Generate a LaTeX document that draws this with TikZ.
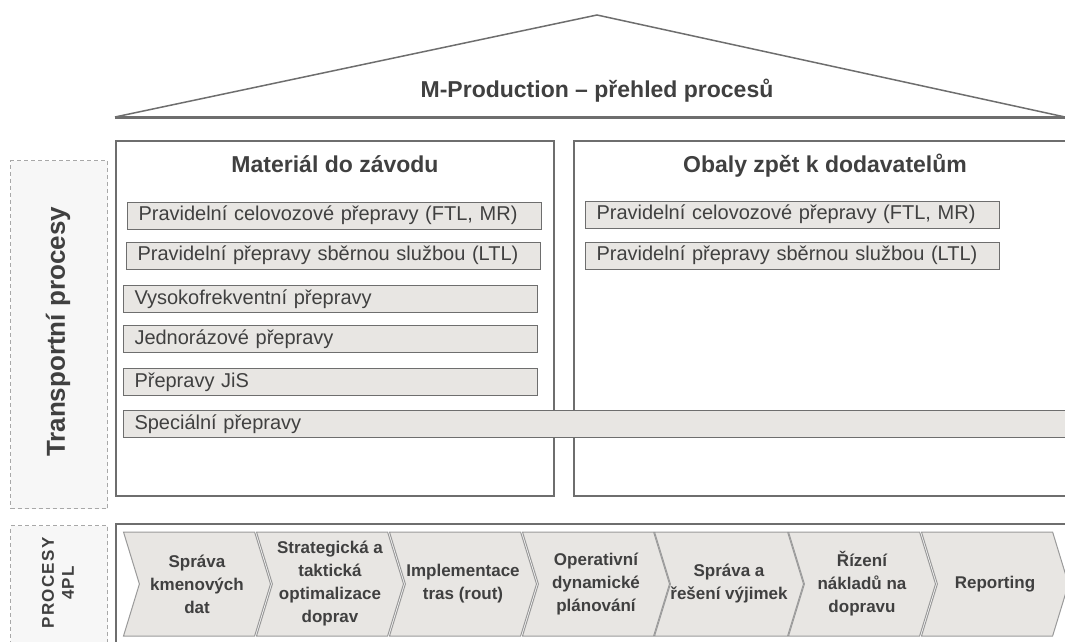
\documentclass[tikz,border=0pt]{standalone}
\usepackage{fontspec}
\setmainfont{Liberation Sans}
\usetikzlibrary{shapes.symbols}
\definecolor{txtgray}{HTML}{404040}
\definecolor{linegray}{HTML}{6E6E6E}
\definecolor{chevgray}{HTML}{9A9A9A}
\definecolor{barfill}{HTML}{E8E6E3}
\definecolor{dashgray}{HTML}{A8A8A8}
\definecolor{sidefill}{HTML}{F7F7F7}
\begin{document}
\begin{tikzpicture}[x=1pt,y=-1pt,node distance=133pt]
\tikzstyle{column} = [rectangle, draw=linegray, line width=1.5pt, anchor=north west, inner sep=0pt]
\tikzstyle{side} = [rectangle, draw=dashgray, fill=sidefill, dash pattern=on 4pt off 3pt, line width=1pt, anchor=north west, inner sep=0pt]
\tikzstyle{heading} = [anchor=base, text=txtgray, font=\bfseries\fontsize{23}{26}\selectfont]
\tikzstyle{bar} = [rectangle, draw=linegray, fill=barfill, line width=1pt, anchor=west, minimum height=27pt, inner xsep=11pt, inner ysep=0pt, align=left, text=txtgray, font=\fontsize{20}{22}\selectfont]
\tikzstyle{stage} = [signal, signal from=west, signal to=east, signal pointer angle=146, draw=chevgray, fill=barfill, line width=1pt, minimum width=147pt, minimum height=104pt, inner sep=0pt, align=center, text=txtgray, font=\bfseries\fontsize{17}{23}\selectfont]
\useasboundingbox (0,0) rectangle (1065,642);

% roof
\coordinate (eaveL) at (115,117);
\coordinate (apex) at (597,15);
\coordinate (eaveR) at (1065,117);
\draw[linegray, line width=1.5pt] (eaveL) -- (apex) -- (eaveR);
\draw[linegray, line width=3pt] (eaveL) -- (eaveR);
\node[heading] (roof) at (597,97) {M-Production – přehled procesů};

% transport processes
\node[side, minimum width=97pt, minimum height=348pt] (tpside) at (10,160) {};
\node[text=txtgray, rotate=90, font=\bfseries\fontsize{26}{28}\selectfont] (tplabel) at (58,332) {Transportní procesy};
\node[column, minimum width=438pt, minimum height=355pt] (mat) at (115,140) {};
\node[column, minimum width=500pt, minimum height=355pt] (obaly) at (573,140) {};
\node[heading] (mattitle) at (335,172) {Materiál do závodu};
\node[heading] (obalytitle) at (825,172) {Obaly zpět k dodavatelům};

\node[bar, text width=392pt] (ftl) at (127,215.5) {Pravidelní celovozové přepravy (FTL, MR)};
\node[bar, text width=392pt] (ltl) at (126,255.5) {Pravidelní přepravy sběrnou službou (LTL)};
\node[bar, text width=392pt] (vysoko) at (123,299) {Vysokofrekventní přepravy};
\node[bar, text width=392pt] (jedno) at (123,339) {Jednorázové přepravy};
\node[bar, text width=392pt] (jis) at (123,382) {Přepravy JiS};
\node[bar, text width=928pt] (spec) at (123,424) {Speciální přepravy};
\node[bar, text width=392pt] (ftlback) at (585,214.5) {Pravidelní celovozové přepravy (FTL, MR)};
\node[bar, text width=392pt] (ltlback) at (585,255.5) {Pravidelní přepravy sběrnou službou (LTL)};

% 4PL processes
\node[side, minimum width=97pt, minimum height=125pt] (pside) at (10,525) {};
\node[text=txtgray, rotate=90, align=center, font=\bfseries\fontsize{17}{20}\selectfont\addfontfeature{LetterSpace=8}] (plabel) at (58,583) {PROCESY\\4PL};
\node[column, minimum width=960pt, minimum height=130pt] (procbox) at (115,523) {};

\node[stage] (kmen) at (197,584) {Správa\\kmenových\\dat};
\node[stage, right of=kmen] (optim) {Strategická a\\taktická\\optimalizace\\doprav};
\node[stage, right of=optim] (trasy) {Implementace\\tras (rout)};
\node[stage, right of=trasy] (plan) {Operativní\\dynamické\\plánování};
\node[stage, right of=plan] (vyjimky) {Správa a\\řešení výjimek};
\node[stage, right of=vyjimky] (naklady) {Řízení\\nákladů na\\dopravu};
\node[stage, right of=naklady] (report) {Reporting};
\end{tikzpicture}
\end{document}
